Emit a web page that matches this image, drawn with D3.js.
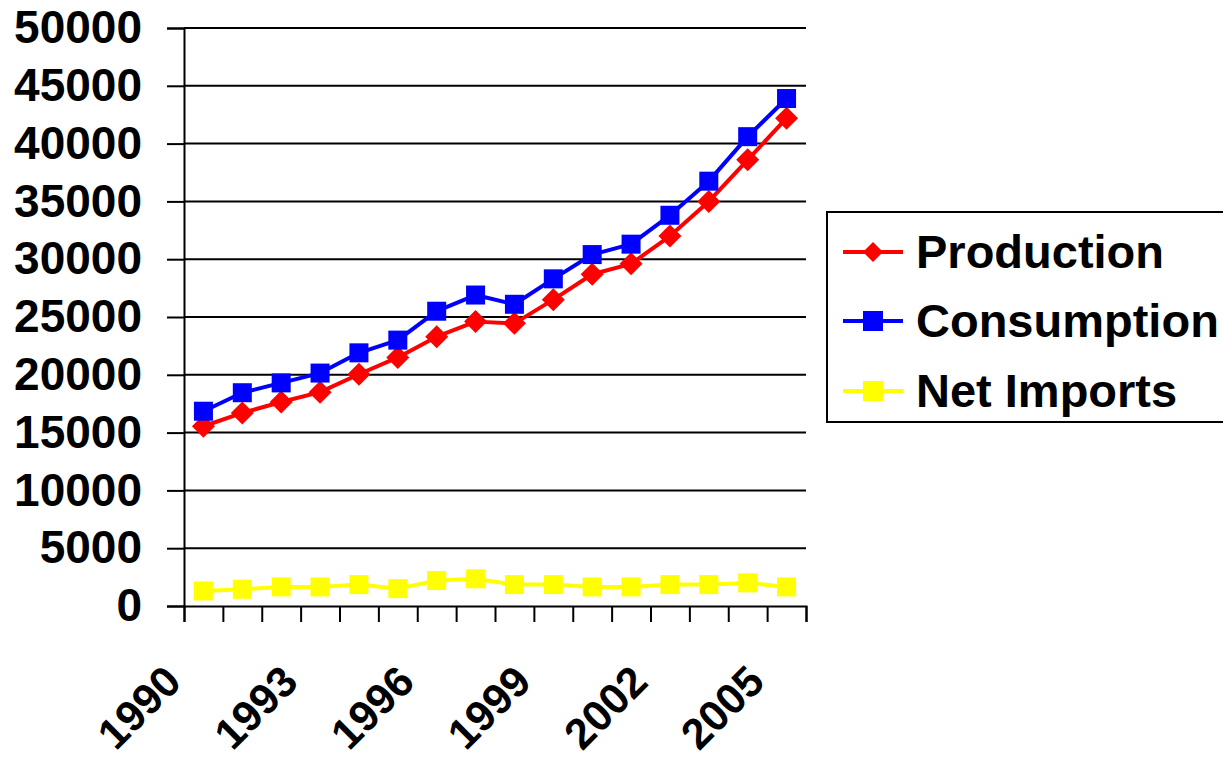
<!DOCTYPE html>
<html>
<head>
<meta charset="utf-8">
<script src="https://cdn.jsdelivr.net/npm/d3@7"></script>
<style>
  html, body { margin: 0; padding: 0; background: #fff; }
  svg { display: block; }
  text { font-family: "Liberation Sans", Arial, sans-serif; font-weight: bold; }
</style>
</head>
<body>
<svg id="chart" width="1223" height="758"></svg>
<script>
const years = [1990,1991,1992,1993,1994,1995,1996,1997,1998,1999,2000,2001,2002,2003,2004,2005];
const production  = [15550,16700,17650,18500,20050,21500,23300,24600,24450,26500,28700,29600,32000,35000,38600,42200];
const consumption = [16850,18450,19300,20150,21900,23000,25500,26900,26100,28300,30400,31300,33800,36750,40600,43900];
const netImports  = [1300,1450,1650,1650,1850,1500,2200,2350,1850,1850,1650,1650,1850,1850,2000,1650];
const yTicks = [0,5000,10000,15000,20000,25000,30000,35000,40000,45000,50000];
const xTickLabels = [1990,1993,1996,1999,2002,2005];
const seriesNames = ["Production","Consumption","Net Imports"];
const seriesColors = ["#ff0000","#0000ff","#ffff00"];
const seriesShapes = ["diamond","square","square"];

(function () {
const svg = d3.select("#chart");
svg.append("rect").attr("width",1223).attr("height",758).attr("fill","#fff");

const pL = 184, pR = 806, pT = 28, pB = 606;
const x = d3.scaleBand().domain(years).range([pL, pR]).padding(0);
const xb = d3.scaleLinear().domain([0, years.length]).range([pL, pR]);
const y = d3.scaleLinear().domain([0, 50000]).range([pB, pT]);

// gridlines
svg.append("g").selectAll("line").data(yTicks.filter(d => d > 0)).join("line")
  .attr("x1", pL).attr("x2", pR)
  .attr("y1", d => y(d)).attr("y2", d => y(d))
  .attr("stroke", "#000").attr("stroke-width", 2);

// y axis
const yAxis = svg.append("g").attr("transform", `translate(${pL},0)`)
  .call(d3.axisLeft(y).tickValues(yTicks).tickSize(17).tickPadding(25).tickFormat(d3.format("d")));
yAxis.select(".domain").attr("stroke","#000").attr("stroke-width",2);
yAxis.selectAll(".tick line").attr("stroke","#000").attr("stroke-width",2);
yAxis.selectAll(".tick text").attr("font-size", 46).attr("fill","#000")
  .attr("font-family", '"Liberation Sans", Arial, sans-serif').attr("font-weight","bold");

// x axis (ticks at category boundaries)
const xAxis = svg.append("g").attr("transform", `translate(0,${pB})`)
  .call(d3.axisBottom(xb).tickValues(d3.range(years.length + 1)).tickSize(16).tickFormat(""));
xAxis.select(".domain").attr("stroke","#000").attr("stroke-width",2);
xAxis.selectAll(".tick line").attr("stroke","#000").attr("stroke-width",2);

// x labels rotated
svg.append("g").selectAll("text").data(xTickLabels).join("text")
  .attr("transform", d => `translate(${x(d) + x.bandwidth()/2 - 20},${684}) rotate(-45)`)
  .attr("text-anchor", "end")
  .attr("font-size", 43).attr("fill", "#000")
  .text(d => d);

function marker(g, shape, color, cx, cy) {
  if (shape === "diamond") {
    const r = 11.5;
    g.append("path").attr("d", `M${cx},${cy-r}L${cx+r},${cy}L${cx},${cy+r}L${cx-r},${cy}Z`).attr("fill", color);
  } else {
    const s = 19;
    g.append("rect").attr("x", cx - s/2).attr("y", cy - s/2).attr("width", s).attr("height", s).attr("fill", color);
  }
}

const allSeries = [production, consumption, netImports];
const line = d3.line().x((d,i) => x(years[i]) + x.bandwidth()/2).y(d => y(d));
allSeries.forEach((vals, si) => {
  const g = svg.append("g");
  g.append("path").attr("d", line(vals)).attr("fill","none")
    .attr("stroke", seriesColors[si]).attr("stroke-width", 4).attr("stroke-linejoin","round");
  vals.forEach((v,i) => marker(g, seriesShapes[si], seriesColors[si], x(years[i]) + x.bandwidth()/2, y(v)));
});

// legend
const lg = svg.append("g");
lg.append("rect").attr("x", 827).attr("y", 212).attr("width", 410).attr("height", 210)
  .attr("fill", "#fff").attr("stroke", "#000").attr("stroke-width", 2);
const rowY = [252, 321, 391];
seriesNames.forEach((name, si) => {
  const ly = rowY[si];
  lg.append("line").attr("x1", 843).attr("x2", 903).attr("y1", ly).attr("y2", ly)
    .attr("stroke", seriesColors[si]).attr("stroke-width", 4);
  if (seriesShapes[si] === "diamond") {
    const r = 10;
    lg.append("path").attr("d", `M873,${ly-r}L${873+r},${ly}L873,${ly+r}L${873-r},${ly}Z`).attr("fill", seriesColors[si]);
  } else {
    lg.append("rect").attr("x", 863).attr("y", ly-10).attr("width", 20).attr("height", 20).attr("fill", seriesColors[si]);
  }
  lg.append("text").attr("x", 916).attr("y", ly + 16).attr("font-size", 47).attr("fill", "#000").text(name);
});
})();
</script>
</body>
</html>
